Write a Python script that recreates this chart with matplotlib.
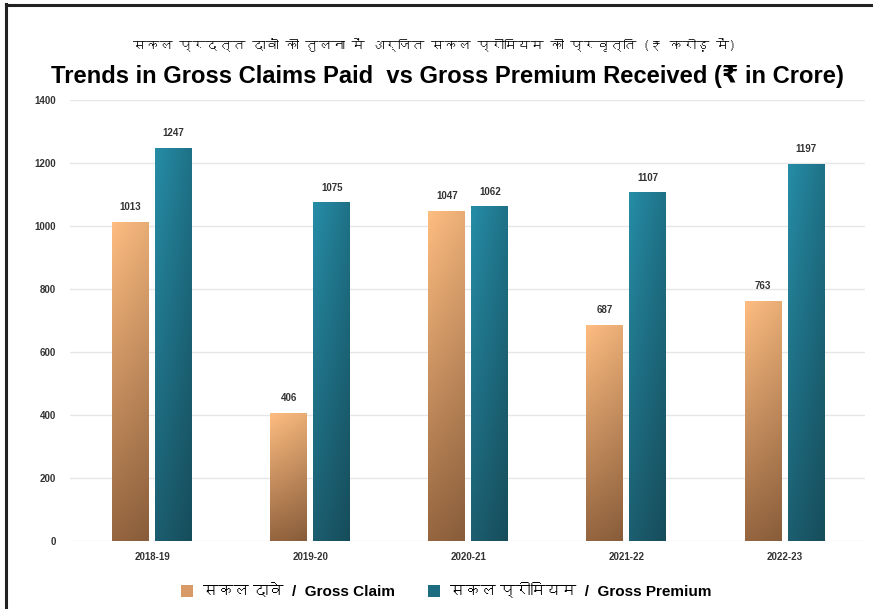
import numpy as np
import matplotlib
matplotlib.use('Agg')
import matplotlib.pyplot as plt
from matplotlib import font_manager
from matplotlib.ft2font import FT2Font
from matplotlib.patches import Patch
from matplotlib.lines import Line2D

years = ['2018-19', '2019-20', '2020-21', '2021-22', '2022-23']
gross_claim = [1013, 406, 1047, 687, 763]
gross_premium = [1247, 1075, 1062, 1107, 1197]
y_ticks = [0, 200, 400, 600, 800, 1000, 1200, 1400]
title_hi = 'सकल प्रदत्त दावों की तुलना में अर्जित सकल प्रीमियम की प्रवृत्ति (₹ करोड़ में)'
title_en = 'Trends in Gross Claims Paid  vs Gross Premium Received (₹ in Crore)'
legend_labels = ['सकल दावे  /  Gross Claim', 'सकल प्रीमियम  /  Gross Premium']


def find_deva():
    names = []
    for f in font_manager.fontManager.ttflist:
        try:
            ft = FT2Font(f.fname)
            if 0x0915 in ft.get_charmap():
                names.append(f.name)
        except Exception:
            pass
    return names


deva = find_deva()
fam = ['Liberation Sans', 'DejaVu Sans'] + deva[:1]
fam_hi = deva[:1] + ['DejaVu Sans']
plt.rcParams['font.family'] = fam

fig = plt.figure(figsize=(8.73, 6.09), dpi=100)
ax = fig.add_axes([0.080, 0.1117, 0.911, 0.7241])

x = np.arange(len(years))
w = 0.234
off = 0.136

b1 = ax.bar(x - off, gross_claim, w, color='#C98E5E', zorder=2)
b2 = ax.bar(x + off, gross_premium, w, color='#22788F', zorder=2)


def grad(top, bottom, left_f, right_f, n=64):
    top = np.array(matplotlib.colors.to_rgb(top))
    bottom = np.array(matplotlib.colors.to_rgb(bottom))
    t = np.linspace(0, 1, n)[:, None, None]
    col = top * (1 - t) + bottom * t
    h = np.linspace(left_f, right_f, n)[None, :, None]
    arr = np.clip(col * h, 0, 1)
    return arr


g_or = grad('#F9B97E', '#93643F', 1.02, 0.93)
g_te = grad('#24869F', '#1A5A6B', 1.05, 0.85)

for bars, g in ((b1, g_or), (b2, g_te)):
    for r in bars:
        x0, y0 = r.get_x(), r.get_y()
        im = ax.imshow(g, extent=[x0, x0 + r.get_width(), y0, y0 + r.get_height()],
                       aspect='auto', zorder=3, interpolation='bilinear')
        im.set_clip_path(r)

for bars, vals in ((b1, gross_claim), (b2, gross_premium)):
    for r, v in zip(bars, vals):
        ax.annotate(str(v), (r.get_x() + r.get_width() / 2, r.get_height()),
                    xytext=(0, 7), textcoords='offset points', ha='center', va='bottom',
                    fontsize=7, fontweight='bold', color='#333333')

ax.set_xlim(-0.52, 4.51)
ax.set_ylim(0, 1400)
ax.set_yticks(y_ticks)
ax.set_yticklabels([str(v) for v in y_ticks], fontsize=7, fontweight='bold', color='#333333')
ax.set_xticks(x)
ax.set_xticklabels(years, fontsize=7, fontweight='bold', color='#333333')
ax.tick_params(length=0, pad=10)
ax.tick_params(axis='x', pad=8)
ax.grid(axis='y', color='#E6E6E6', linewidth=1.0, zorder=0)
ax.set_axisbelow(True)
for s in ax.spines.values():
    s.set_visible(False)

fig.text(434.5 / 873, 1 - 45 / 609, title_hi, ha='center', va='center', fontsize=9.5,
         color='black', family=fam_hi)
fig.text(447.5 / 873, 1 - 77 / 609, title_en, ha='center', va='center', fontsize=17.1,
         fontweight='bold', color='black', family=['Liberation Sans', 'DejaVu Sans'])

handles = [Patch(facecolor='#D89A66'), Patch(facecolor='#1E6C80')]
leg = fig.legend(handles, legend_labels, loc='center', bbox_to_anchor=(0.511, 1 - 591 / 609),
                 ncol=2, frameon=False, fontsize=11, handlelength=0.8, handleheight=0.8,
                 columnspacing=2.2, handletextpad=0.6)
for t in leg.get_texts():
    t.set_fontweight('bold')

fig.add_artist(Line2D([6 / 873, 6 / 873], [0, 1 - 4 / 609], transform=fig.transFigure,
                      color='#222222', linewidth=2.2))
fig.add_artist(Line2D([6 / 873, 1], [1 - 4.5 / 609, 1 - 4.5 / 609], transform=fig.transFigure,
                      color='#222222', linewidth=2.2))

fig.savefig('out.png', dpi=100)
